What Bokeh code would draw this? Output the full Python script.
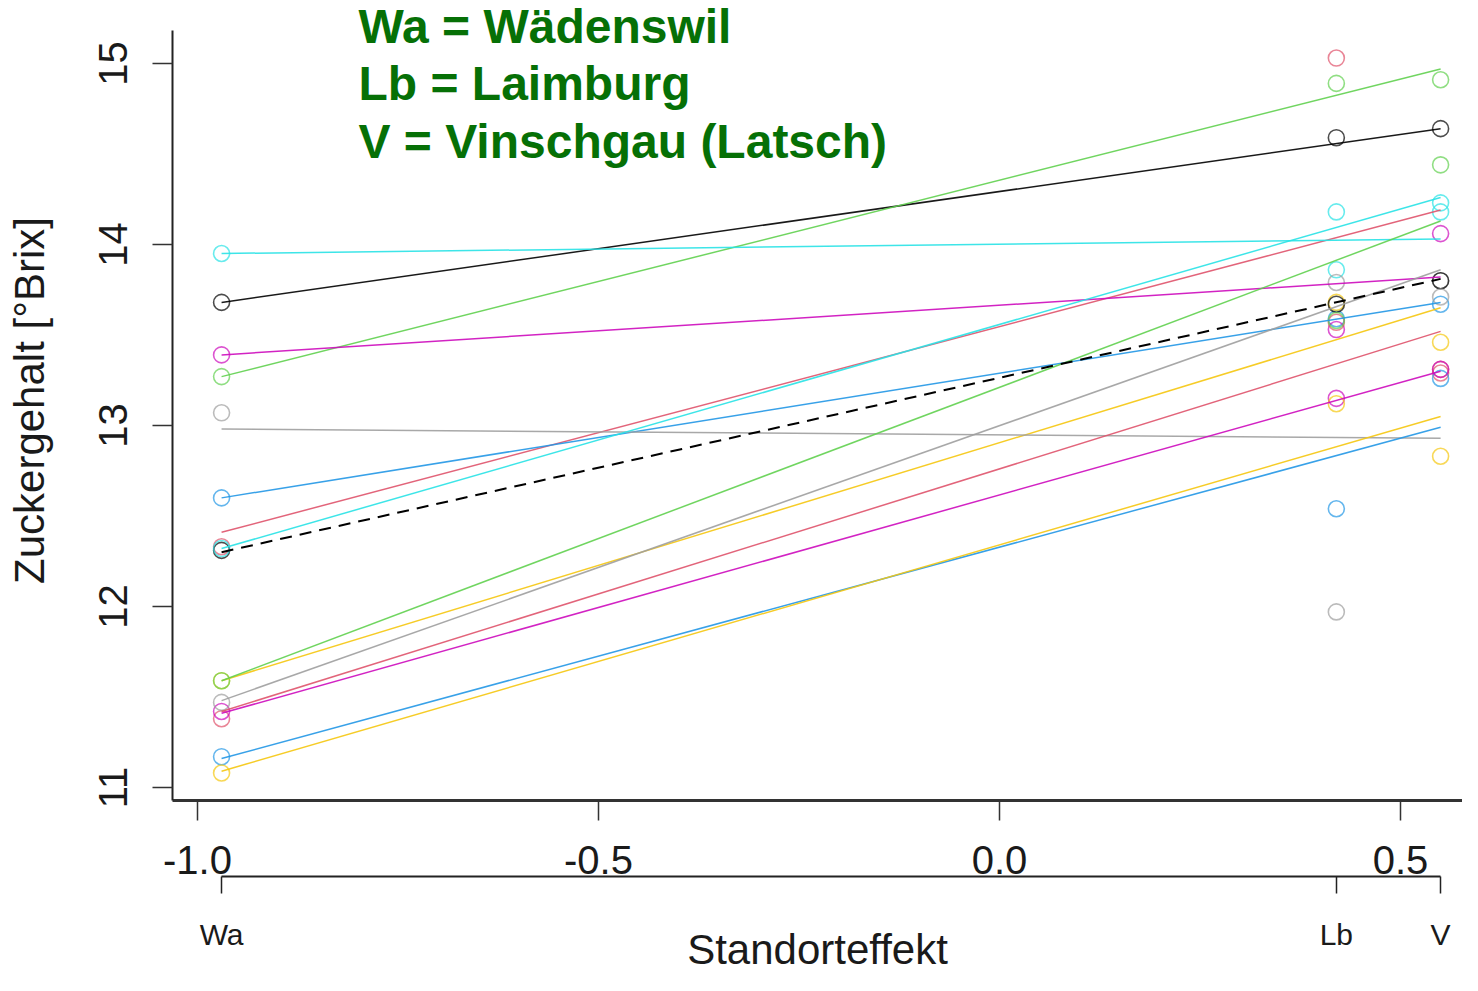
from bokeh.plotting import figure
from bokeh.models import LinearAxis, FixedTicker, Range1d, Label, ColumnDataSource
from bokeh.embed import file_html
from bokeh.resources import INLINE

# ---------------- data ----------------
site_names = ["Wa", "Lb", "V"]
site_effect = [-0.97, 0.42, 0.55]

x_ticks = [-1.0, -0.5, 0.0, 0.5]
x_tick_labels = ["-1.0", "-0.5", "0.0", "0.5"]
y_ticks = [11, 12, 13, 14, 15]

series_colors = ["#000000", "#DF536B", "#61D04F", "#2297E6", "#28E2E5", "#CD0BBC", "#F5C710", "#9E9E9E",
                 "#000000", "#DF536B", "#61D04F", "#2297E6", "#28E2E5", "#CD0BBC", "#F5C710", "#9E9E9E"]
series_dashed = [False] * 8 + [True] + [False] * 7

sugar_wa = [13.68, 12.33, 13.27, 12.60, 13.95, 13.39, 11.59, 13.07,
            12.31, 11.38, 11.59, 11.17, 12.32, 11.42, 11.08, 11.47]
sugar_lb = [14.59, 15.03, 14.89, 13.59, 13.86, 13.53, 13.68, 11.97,
            13.67, 13.57, 13.58, 12.54, 14.18, 13.15, 13.12, 13.79]
sugar_v = [14.64, 13.29, 14.91, 13.67, 14.18, 14.06, 13.46, 13.80,
           13.80, 13.31, 14.44, 13.26, 14.23, 13.31, 12.83, 13.71]

fit_wa = [13.68, 12.41, 13.27, 12.60, 13.95, 13.39, 11.59, 12.98,
          12.30, 11.42, 11.59, 11.16, 12.32, 11.41, 11.09, 11.48]
fit_v = [14.64, 14.19, 14.97, 13.68, 14.03, 13.82, 13.65, 12.93,
         13.81, 13.52, 14.13, 12.99, 14.26, 13.30, 13.05, 13.86]

legend_lines = ["Wa = Wädenswil", "Lb = Laimburg", "V = Vinschgau (Latsch)"]

# ---------------- figure ----------------
FONT = "Liberation Sans"
TXT = "#1a1a1a"
Y_LO, Y_AXIS_TOP, Y_HI = 10.928, 15.182, 15.348

p = figure(width=1462, height=975,
           x_range=Range1d(-1.0312, 0.5773), y_range=Range1d(Y_LO, Y_HI),
           output_backend="svg", toolbar_location=None,
           min_border_left=172, min_border_right=0, min_border_top=0, min_border_bottom=175)
p.outline_line_color = None
p.xgrid.visible = False
p.ygrid.visible = False
p.background_fill_color = "white"
p.border_fill_color = "white"

# points
px, py, pc = [], [], []
for i in range(len(series_colors)):
    for xv, yv in zip(site_effect, [sugar_wa[i], sugar_lb[i], sugar_v[i]]):
        px.append(xv)
        py.append(yv)
        pc.append(series_colors[i])
p.scatter(x=px, y=py, marker="circle", size=16, fill_color=None,
          line_color=pc, line_width=1.6, line_alpha=0.7)

# fitted lines
def seg_source(flag):
    idx = [i for i in range(len(series_colors)) if series_dashed[i] == flag]
    return ColumnDataSource(dict(
        x0=[site_effect[0]] * len(idx), y0=[fit_wa[i] for i in idx],
        x1=[site_effect[2]] * len(idx), y1=[fit_v[i] for i in idx],
        c=[series_colors[i] for i in idx]))

p.segment(x0="x0", y0="y0", x1="x1", y1="y1", line_color="c", line_width=1.5,
          line_alpha=0.9, source=seg_source(False))
p.segment(x0="x0", y0="y0", x1="x1", y1="y1", line_color="c", line_width=2,
          line_dash="12 8", source=seg_source(True))

# main x axis
xa = p.xaxis[0]
xa.ticker = FixedTicker(ticks=x_ticks)
xa.major_label_overrides = dict(zip(x_ticks, x_tick_labels))
xa.major_tick_out = 20
xa.major_tick_in = 0
xa.minor_tick_out = 0
xa.minor_tick_in = 0
xa.major_label_standoff = 25
xa.major_label_text_font = FONT
xa.major_label_text_font_size = "40px"
xa.major_label_text_color = TXT
xa.axis_line_width = 3
xa.axis_line_color = "#333333"
xa.major_tick_line_width = 1.5
xa.major_tick_line_color = "#333333"

# y axis
ya = p.yaxis[0]
ya.ticker = FixedTicker(ticks=y_ticks)
ya.bounds = (Y_LO, Y_AXIS_TOP)
ya.major_tick_out = 20
ya.major_tick_in = 0
ya.minor_tick_out = 0
ya.minor_tick_in = 0
ya.major_label_orientation = "vertical"
ya.major_label_standoff = 25
ya.major_label_text_font = FONT
ya.major_label_text_font_size = "40px"
ya.major_label_text_color = TXT
ya.axis_line_width = 2
ya.axis_line_color = "#222222"
ya.major_tick_line_width = 1.5
ya.major_tick_line_color = "#333333"
ya.axis_label = "Zuckergehalt [°Brix]"
ya.axis_label_text_font = FONT
ya.axis_label_text_font_size = "42px"
ya.axis_label_text_font_style = "normal"
ya.axis_label_text_color = TXT
ya.axis_label_standoff = 44

# site axis with the x title
sa = LinearAxis(ticker=FixedTicker(ticks=site_effect),
                major_label_overrides=dict(zip(site_effect, site_names)),
                bounds=(site_effect[0], site_effect[2]))
sa.major_tick_out = 17
sa.major_tick_in = 0
sa.minor_tick_out = 0
sa.minor_tick_in = 0
sa.major_label_standoff = 24
sa.major_label_text_font = FONT
sa.major_label_text_font_size = "30px"
sa.major_label_text_color = TXT
sa.axis_line_width = 2
sa.axis_line_color = "#222222"
sa.major_tick_line_width = 1.5
sa.major_tick_line_color = "#222222"
sa.axis_label = "Standorteffekt"
sa.axis_label_text_font = FONT
sa.axis_label_text_font_size = "42px"
sa.axis_label_text_font_style = "normal"
sa.axis_label_text_color = TXT
sa.axis_label_standoff = -28
p.add_layout(sa, "below")

# green legend text
legend_y = [15.204, 14.889, 14.569]
for t, yv in zip(legend_lines, legend_y):
    p.add_layout(Label(x=-0.7993, y=yv, text=t, text_align="left", text_baseline="alphabetic",
                       text_font=FONT, text_font_size="48px", text_font_style="bold",
                       text_color="#067006"))

open("out.html", "w").write(file_html(p, INLINE))
